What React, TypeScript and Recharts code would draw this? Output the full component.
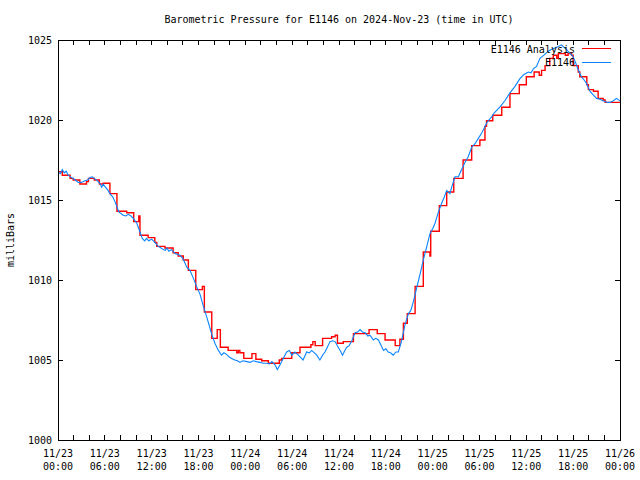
import React from "react";
import { LineChart, Line, XAxis, YAxis } from "recharts";

const chartTitle = "Barometric Pressure for E1146 on 2024-Nov-23 (time in UTC)";
const yLabel = "milliBars";
const seriesNames = ["E1146 Analysis", "E1146"];

// hours since 2024-11-23 00:00 UTC
const xTickHours = [0, 2, 4, 6, 8, 10, 12, 14, 16, 18, 20, 22, 24, 26, 28, 30, 32, 34, 36, 38, 40, 42, 44, 46, 48, 50, 52, 54, 56, 58, 60, 62, 64, 66, 68, 70, 72];
const xDateLabels = ["11/23", "11/23", "11/23", "11/23", "11/24", "11/24", "11/24", "11/24", "11/25", "11/25", "11/25", "11/25", "11/26"];
const xTimeLabels = ["00:00", "06:00", "12:00", "18:00", "00:00", "06:00", "12:00", "18:00", "00:00", "06:00", "12:00", "18:00", "00:00"];
const yTicks = [1000, 1005, 1010, 1015, 1020, 1025];

// E1146 observations
const obsHours = [0.0, 0.3, 0.55, 0.8, 1.05, 1.3, 1.75, 2.1, 2.6, 3.0, 3.45, 3.8, 4.1, 4.4, 4.65, 5.15, 5.4, 5.6, 5.8, 6.0, 6.35, 6.65, 7.0, 7.3, 7.8, 8.35, 8.7, 9.0, 9.35, 9.65, 10.1, 10.5, 10.8, 11.1, 11.35, 11.6, 12.0, 12.4, 12.85, 13.2, 13.5, 13.75, 13.95, 14.2, 14.55, 14.8, 15.0, 15.6, 16.05, 16.5, 16.9, 17.35, 17.75, 18.2, 18.6, 19.05, 19.35, 19.7, 20.1, 20.55, 20.95, 21.25, 21.6, 21.9, 22.25, 22.65, 23.0, 23.3, 23.7, 24.2, 24.6, 25.0, 25.4, 25.9, 26.3, 26.75, 27.1, 27.4, 27.8, 28.1, 28.45, 28.85, 29.3, 29.65, 29.95, 30.35, 30.8, 31.1, 31.4, 31.85, 32.2, 32.5, 32.85, 33.15, 33.55, 33.9, 34.2, 34.5, 34.85, 35.2, 35.5, 35.9, 36.2, 36.45, 36.75, 37.0, 37.3, 37.6, 38.05, 38.4, 38.7, 39.0, 39.35, 39.7, 39.95, 40.2, 40.4, 40.7, 41.05, 41.4, 41.7, 42.0, 42.3, 42.6, 42.95, 43.3, 43.6, 44.0, 44.45, 44.9, 45.2, 45.5, 45.95, 46.4, 46.8, 47.25, 47.65, 48.0, 48.3, 48.7, 49.15, 49.5, 49.8, 50.2, 50.5, 50.85, 51.3, 51.6, 51.9, 52.2, 52.55, 53.0, 53.4, 53.85, 54.3, 54.9, 55.2, 55.55, 55.9, 56.2, 56.6, 57.25, 57.9, 58.55, 59.2, 59.7, 60.25, 60.6, 60.9, 61.3, 61.75, 62.25, 62.8, 63.2, 63.65, 64.1, 64.5, 64.8, 65.15, 65.55, 65.95, 66.3, 66.6, 67.05, 67.4, 67.7, 68.15, 68.6, 69.0, 69.45, 69.8, 70.1, 70.4, 70.7, 71.15, 71.55, 72.0];
const obsMb = [1016.75, 1016.65, 1016.9, 1016.7, 1016.8, 1016.55, 1016.4, 1016.3, 1016.1, 1016.1, 1016.2, 1016.25, 1016.4, 1016.45, 1016.35, 1016.15, 1016.0, 1015.8, 1016.0, 1015.85, 1015.65, 1015.4, 1015.2, 1014.9, 1014.25, 1014.05, 1014.0, 1014.1, 1014.0, 1013.85, 1013.55, 1013.0, 1012.6, 1012.45, 1012.6, 1012.45, 1012.55, 1012.35, 1012.1, 1012.0, 1011.9, 1011.85, 1012.0, 1011.8, 1011.9, 1011.75, 1011.65, 1011.55, 1011.3, 1010.8, 1010.6, 1010.1, 1009.6, 1009.1, 1008.4, 1007.7, 1007.2, 1006.6, 1006.05, 1005.6, 1005.3, 1005.45, 1005.35, 1005.2, 1005.1, 1005.0, 1004.95, 1004.85, 1004.95, 1004.9, 1004.85, 1004.95, 1004.9, 1004.85, 1004.8, 1004.8, 1004.75, 1004.9, 1004.7, 1004.4, 1004.7, 1005.1, 1005.5, 1005.6, 1005.3, 1005.5, 1005.3, 1005.15, 1005.0, 1005.5, 1005.45, 1005.6, 1005.45, 1005.3, 1005.0, 1005.3, 1005.5, 1005.8, 1006.15, 1006.2, 1006.15, 1005.8, 1005.55, 1005.3, 1005.6, 1005.8, 1005.9, 1006.15, 1006.7, 1006.75, 1006.9, 1006.75, 1006.7, 1006.5, 1006.55, 1006.4, 1006.25, 1006.35, 1006.25, 1005.9, 1005.6, 1005.7, 1005.5, 1005.45, 1005.3, 1005.5, 1005.5, 1006.15, 1007.2, 1007.9, 1008.1, 1008.6, 1009.5, 1010.4, 1011.25, 1012.1, 1012.9, 1013.2, 1013.55, 1014.2, 1014.8, 1015.2, 1015.6, 1015.4, 1015.9, 1016.45, 1016.45, 1016.8, 1017.1, 1017.4, 1017.7, 1018.3, 1018.5, 1018.85, 1019.2, 1019.8, 1020.0, 1020.2, 1020.45, 1020.6, 1020.8, 1021.2, 1021.7, 1022.1, 1022.6, 1022.85, 1023.0, 1022.95, 1023.2, 1023.35, 1023.85, 1024.05, 1024.3, 1024.4, 1024.5, 1024.6, 1024.7, 1024.55, 1024.4, 1024.2, 1024.0, 1023.6, 1023.2, 1022.7, 1022.5, 1022.3, 1021.8, 1021.55, 1021.35, 1021.3, 1021.2, 1021.15, 1021.1, 1021.1, 1021.2, 1021.35, 1021.2];

// E1146 Analysis (stepped)
const anaHours = [0, 0.55, 1.55, 1.95, 2.8, 3.65, 3.9, 4.65, 5.3, 5.8, 6.65, 7.55, 8.8, 9.7, 10.35, 10.5, 11.55, 12.4, 12.65, 13.7, 14.75, 15.4, 16.05, 16.7, 17.65, 18.5, 18.75, 19.7, 20.4, 20.8, 21.8, 22.9, 23.1, 23.3, 23.8, 24.85, 25.35, 26.1, 26.95, 28.35, 28.65, 29.95, 31.0, 32.4, 32.65, 32.95, 33.9, 35.05, 35.5, 35.8, 36.55, 37.85, 39.85, 40.9, 41.9, 43.2, 43.8, 44.25, 44.75, 45.75, 46.8, 47.65, 47.75, 48.85, 49.8, 50.7, 51.9, 53.0, 54.05, 54.7, 54.9, 55.7, 56.85, 57.9, 59.1, 60.0, 61.0, 61.65, 61.95, 62.4, 63.0, 63.45, 63.9, 64.1, 65.0, 65.35, 65.8, 66.0, 66.65, 66.85, 67.75, 67.95, 68.6, 69.2, 69.85, 70.1, 72];
const anaMb = [1016.77, 1016.55, 1016.35, 1016.25, 1016.0, 1016.15, 1016.35, 1016.25, 1016.0, 1016.05, 1015.4, 1014.3, 1014.2, 1013.65, 1014.0, 1012.8, 1012.65, 1012.35, 1012.1, 1012.0, 1011.7, 1011.5, 1011.25, 1010.6, 1009.4, 1009.6, 1008.0, 1006.35, 1006.9, 1005.8, 1005.6, 1005.45, 1005.6, 1005.45, 1005.1, 1005.4, 1005.05, 1004.95, 1004.8, 1005.0, 1005.1, 1005.45, 1005.8, 1005.95, 1006.15, 1005.9, 1006.35, 1006.45, 1006.55, 1006.05, 1006.15, 1006.65, 1006.9, 1006.65, 1006.25, 1005.9, 1006.3, 1007.3, 1007.9, 1009.6, 1011.75, 1011.5, 1013.05, 1014.65, 1015.5, 1016.35, 1017.5, 1018.4, 1018.75, 1019.6, 1019.95, 1020.3, 1020.8, 1021.65, 1022.2, 1022.7, 1023.0, 1022.8, 1023.1, 1023.4, 1023.85, 1024.05, 1023.85, 1024.15, 1024.05, 1024.15, 1024.05, 1023.4, 1023.0, 1022.7, 1022.2, 1021.9, 1021.8, 1021.35, 1021.25, 1021.1, 1021.1];

const obsData = obsHours.map((h, i) => ({ h, v: obsMb[i] }));
const anaData = anaHours.map((h, i) => ({ h, v: anaMb[i] }));

const FONT = "'DejaVu Sans Mono', 'Liberation Mono', monospace";
const W = 640;
const H = 480;
const PL = 58;
const PR = 620;
const PT = 40;
const PB = 440;
const RED = "#ff0000";
const BLUE = "#0a84ff";

const XTick = (props: any) => {
  const { x, payload } = props;
  const h = payload.value as number;
  const isLabel = h % 6 === 0;
  const idx = h / 6;
  const len = 5;
  return (
    <g>
      <line x1={x} x2={x} y1={PB} y2={PB - len} stroke="#000" shapeRendering="crispEdges" />
      <line x1={x} x2={x} y1={PT} y2={PT + len} stroke="#000" shapeRendering="crispEdges" />
      {isLabel && (
        <text x={x} y={457} textAnchor="middle" fontFamily={FONT} fontSize={10} fill="#000">
          {xDateLabels[idx]}
        </text>
      )}
      {isLabel && (
        <text x={x} y={470} textAnchor="middle" fontFamily={FONT} fontSize={10} fill="#000">
          {xTimeLabels[idx]}
        </text>
      )}
    </g>
  );
};

const YTick = (props: any) => {
  const { y, payload } = props;
  const len = 5;
  return (
    <g>
      <line x1={PL} x2={PL + len} y1={y} y2={y} stroke="#000" shapeRendering="crispEdges" />
      <line x1={PR} x2={PR - len} y1={y} y2={y} stroke="#000" shapeRendering="crispEdges" />
      <text x={52} y={y + 3.5} textAnchor="end" fontFamily={FONT} fontSize={10} fill="#000">
        {payload.value}
      </text>
    </g>
  );
};

export default function App() {
  return (
    <div style={{ position: "absolute", left: 0, top: 0, width: W, height: H, background: "#fff" }}>
      <LineChart width={W} height={H} margin={{ top: PT, right: W - PR, bottom: 0, left: 0 }}>
        <XAxis
          dataKey="h"
          type="number"
          domain={[0, 72]}
          ticks={xTickHours}
          interval={0}
          height={H - PB}
          axisLine={false}
          tickLine={false}
          tick={<XTick />}
          allowDataOverflow
        />
        <YAxis
          type="number"
          domain={[1000, 1025]}
          ticks={yTicks}
          interval={0}
          width={PL}
          axisLine={false}
          tickLine={false}
          tick={<YTick />}
          allowDataOverflow
        />
        <Line
          data={anaData}
          dataKey="v"
          name={seriesNames[0]}
          type="stepAfter"
          stroke={RED}
          strokeWidth={1.4}
          dot={false}
          isAnimationActive={false}
        />
        <Line
          data={obsData}
          dataKey="v"
          name={seriesNames[1]}
          type="linear"
          stroke={BLUE}
          strokeWidth={1.1}
          dot={false}
          isAnimationActive={false}
        />
      </LineChart>
      <svg width={W} height={H} style={{ position: "absolute", left: 0, top: 0, pointerEvents: "none" }}>
        <rect x={PL + 0.5} y={PT + 0.5} width={PR - PL} height={PB - PT} fill="none" stroke="#000" shapeRendering="crispEdges" />
        <text x={(PL + PR) / 2} y={23} textAnchor="middle" fontFamily={FONT} fontSize={10} fill="#000">
          {chartTitle}
        </text>
        <text
          x={14}
          y={(PT + PB) / 2}
          transform={`rotate(-90 14 ${(PT + PB) / 2})`}
          textAnchor="middle"
          fontFamily={FONT}
          fontSize={10}
          fill="#000"
        >
          {yLabel}
        </text>
        <text x={575} y={52.5} textAnchor="end" fontFamily={FONT} fontSize={10} fill="#000">
          {seriesNames[0]}
        </text>
        <line x1={582} x2={611} y1={48.5} y2={48.5} stroke={RED} shapeRendering="crispEdges" />
        <text x={575} y={66} textAnchor="end" fontFamily={FONT} fontSize={10} fill="#000">
          {seriesNames[1]}
        </text>
        <line x1={582} x2={611} y1={62.5} y2={62.5} stroke={BLUE} shapeRendering="crispEdges" />
      </svg>
    </div>
  );
}
